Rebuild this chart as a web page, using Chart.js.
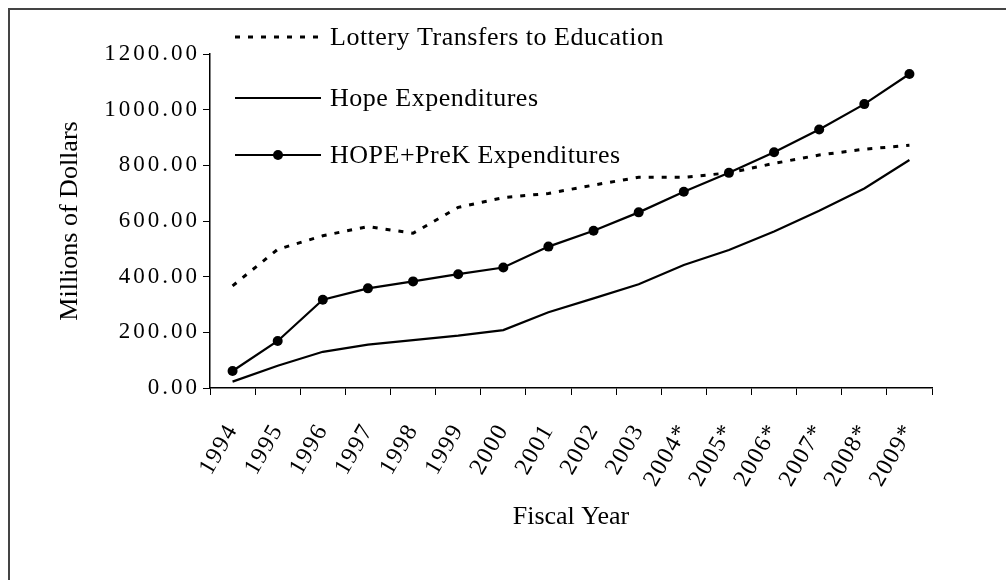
<!DOCTYPE html>
<html>
<head>
<meta charset="utf-8">
<script src="https://cdn.jsdelivr.net/npm/chart.js@4"></script>
<style>
  html, body { margin: 0; padding: 0; background: #fff; overflow: hidden; }
  #rahmen { position: absolute; left: 8px; top: 8px; width: 1200px; height: 800px; border: 2px solid #444; box-sizing: border-box; }
  #wrap { position: absolute; left: 0; top: 0; width: 1006px; height: 580px; }
</style>
</head>
<body>
<div id="rahmen"></div>
<div id="wrap"><canvas id="chart" width="1006" height="580"></canvas></div>
<script>
// Werte (Millionen Dollar)
const jahre = ["1994", "1995", "1996", "1997", "1998", "1999", "2000", "2001", "2002", "2003",
  "2004*", "2005*", "2006*", "2007*", "2008*", "2009*"];
const lotterie = [367, 498, 547, 580, 556, 649, 684, 699, 729, 757, 757, 773, 807, 837, 858, 872];
const hope = [23, 80, 130, 156, 172, 188, 208, 272, 322, 373, 442, 496, 562, 637, 717, 819];
const hopePreK = [61, 169, 317, 358, 383, 409, 433, 508, 565, 631, 705, 773, 847, 929, 1020, 1128];
const yTicks = { min: 0, max: 1200, step: 200 };

const schrift = "'Liberation Serif', 'Times New Roman', serif";

// Achsenbeschriftungen im Original etwas gesperrt -> Zeichenabstand nur für die Tick-Labels
const zeichenabstand = {
  id: 'zeichenabstand',
  afterLayout(chart) {
    const werte = { x: '1.5px', y: '3px' };
    Object.keys(werte).forEach(id => {
      const s = chart.scales[id];
      if (!s || s._mitAbstand) return;
      const orig = s.drawLabels;
      s.drawLabels = function (area) {
        const c = this.ctx;
        const alt = c.letterSpacing;
        c.letterSpacing = werte[id];
        orig.call(this, area);
        c.letterSpacing = alt;
      };
      s._mitAbstand = true;
    });
  }
};

// Legende oben links im Plotbereich, drei Zeilen
const legende = {
  id: 'legende',
  afterDraw(chart) {
    const ctx = chart.ctx;
    const zeilen = [37, 98, 155];
    ctx.save();
    chart.data.datasets.forEach((ds, i) => {
      const y = zeilen[i];
      ctx.strokeStyle = ds.borderColor;
      ctx.lineWidth = ds.borderWidth;
      ctx.setLineDash(ds.borderDash || []);
      ctx.beginPath();
      ctx.moveTo(235, y);
      ctx.lineTo(321, y);
      ctx.stroke();
      ctx.setLineDash([]);
      if (ds.pointRadius > 0) {
        ctx.fillStyle = ds.pointBackgroundColor;
        ctx.beginPath();
        ctx.arc(278, y, ds.pointRadius, 0, Math.PI * 2);
        ctx.fill();
      }
      ctx.fillStyle = '#000';
      ctx.font = "26px " + schrift;
      ctx.letterSpacing = '0.5px';
      ctx.textAlign = 'left';
      ctx.textBaseline = 'middle';
      ctx.fillText(ds.label, 330, y + 1);
    });
    ctx.restore();
  }
};

const data = {
  labels: jahre,
  datasets: [
    {
      label: "Lottery Transfers to Education",
      data: lotterie,
      borderColor: "#000",
      borderWidth: 3,
      borderDash: [5, 8],
      pointRadius: 0,
      tension: 0
    },
    {
      label: "Hope Expenditures",
      data: hope,
      borderColor: "#000",
      borderWidth: 2.2,
      pointRadius: 0,
      tension: 0
    },
    {
      label: "HOPE+PreK Expenditures",
      data: hopePreK,
      borderColor: "#000",
      borderWidth: 2.2,
      pointRadius: 5,
      pointBackgroundColor: "#000",
      pointBorderWidth: 0,
      tension: 0
    }
  ]
};

const options = {
  responsive: false,
  animation: false,
  layout: { padding: { top: 54, right: 74, left: 0, bottom: 0 } },
  plugins: {
    legend: { display: false },
    tooltip: { enabled: false }
  },
  scales: {
    x: {
      offset: true,
      grid: { offset: true, drawOnChartArea: false, tickLength: 7, color: '#000', lineWidth: 1 },
      border: { color: '#000', width: 1.5 },
      ticks: { minRotation: 60, maxRotation: 60, padding: 24, color: '#000', font: { family: schrift, size: 24 } },
      title: { display: true, text: 'Fiscal Year', color: '#000', font: { family: schrift, size: 26 }, padding: { top: 0, bottom: 47 } },
      afterFit(s) { s.height = 192; }
    },
    y: {
      min: yTicks.min,
      max: yTicks.max,
      grid: { drawOnChartArea: false, tickLength: 7, color: '#000', lineWidth: 1 },
      border: { color: '#000', width: 1.5 },
      ticks: {
        stepSize: yTicks.step,
        padding: 3,
        color: '#000',
        font: { family: schrift, size: 23 },
        callback: v => v.toFixed(2)
      },
      title: { display: true, text: 'Millions of Dollars', color: '#000', font: { family: schrift, size: 26 }, padding: { top: 55, bottom: 0 } },
      afterFit(s) { s.width = 210; }
    }
  }
};

const ctx = document.getElementById('chart').getContext('2d');
new Chart(ctx, { type: 'line', data: data, options: options, plugins: [zeichenabstand, legende] });
</script>
</body>
</html>
